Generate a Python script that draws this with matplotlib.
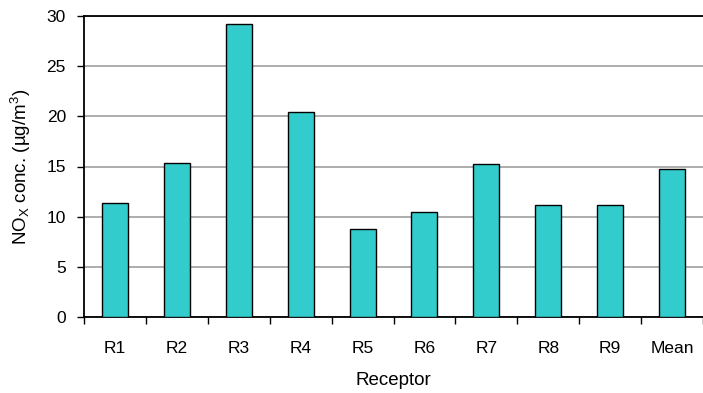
import matplotlib
matplotlib.use("Agg")
import matplotlib.pyplot as plt

categories = ["R1", "R2", "R3", "R4", "R5", "R6", "R7", "R8", "R9", "Mean"]
values = [11.35, 15.35, 29.25, 20.45, 8.8, 10.45, 15.2, 11.2, 11.2, 14.75]
yticks = [0, 5, 10, 15, 20, 25, 30]

plt.rcParams["font.family"] = ["Liberation Sans", "DejaVu Sans"]
plt.rcParams["mathtext.default"] = "regular"

fig = plt.figure(figsize=(7.03, 3.93), dpi=100)
ax = fig.add_axes([84/703, 1-317/393, 619/703, 301/393])

x = list(range(len(categories)))
ax.bar(x, values, width=0.42, color="#33CCCC", edgecolor="black", linewidth=1.0, zorder=3)

ax.set_xlim(-0.5, len(categories) - 0.5)
ax.set_ylim(0, 30)
ax.set_yticks(yticks)
ax.yaxis.grid(True, color="#a0a0a0", linewidth=1.2, zorder=0)
ax.set_axisbelow(True)

ax.set_xticks(x)
ax.set_xticklabels(categories, fontsize=12.5)
ax.set_xticks([i - 0.5 for i in range(len(categories) + 1)], minor=True)
ax.tick_params(axis="x", which="major", length=0, pad=17)
ax.tick_params(axis="x", which="minor", length=5, width=1, direction="out")
ax.tick_params(axis="y", length=5, width=1, direction="out", pad=8, labelsize=12.5)

for s in ["left", "top", "bottom"]:
    ax.spines[s].set_linewidth(1.3)
ax.spines["right"].set_visible(False)

ax.set_xlabel("Receptor", fontsize=13.5, labelpad=12)
ax.set_ylabel("NO$_X$ conc. (µg/m$^3$)", fontsize=13.5, labelpad=10)

fig.savefig("out.png", dpi=100)
